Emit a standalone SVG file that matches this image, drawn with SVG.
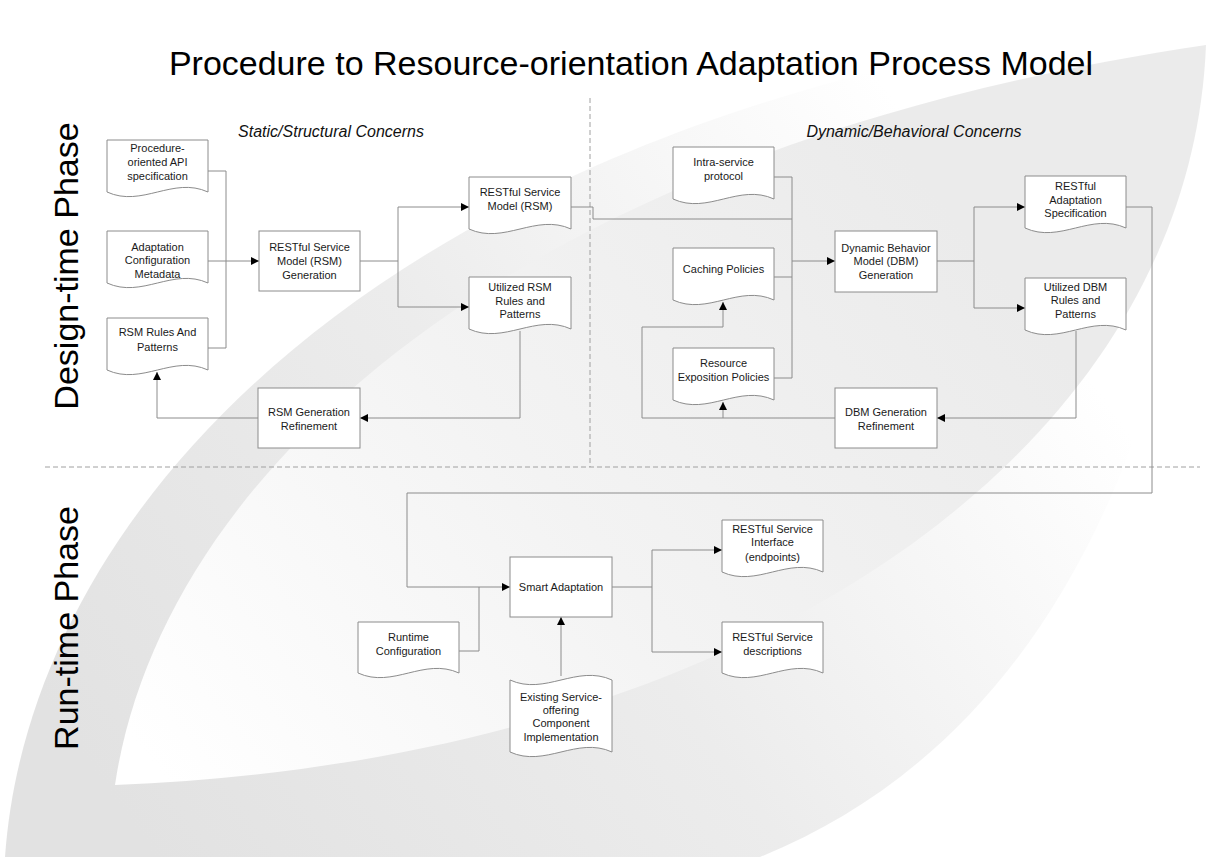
<svg xmlns="http://www.w3.org/2000/svg" width="1206" height="857" viewBox="0 0 1206 857">
<defs>
<linearGradient id="rim" gradientUnits="userSpaceOnUse" x1="150" y1="850" x2="1000" y2="250">
<stop offset="0" stop-color="#e2e2e2"/>
<stop offset="0.5" stop-color="#ececec"/>
<stop offset="1" stop-color="#ffffff"/>
</linearGradient>
<linearGradient id="inner" gradientUnits="userSpaceOnUse" x1="150" y1="760" x2="900" y2="150">
<stop offset="0" stop-color="#ffffff"/>
<stop offset="0.5" stop-color="#f3f3f3"/>
<stop offset="1" stop-color="#ebebeb"/>
</linearGradient>
<marker id="arr" viewBox="0 0 10 10" refX="10" refY="5" markerWidth="8" markerHeight="8" markerUnits="userSpaceOnUse" orient="auto">
<path d="M0,0 L10,5 L0,10 Z" fill="#000"/>
</marker>
<style>
.doc{fill:#fff;stroke:#8c8c8c;stroke-width:1}
.box{fill:#fff;stroke:#8c8c8c;stroke-width:1}
.t{font-family:"Liberation Sans",Arial,sans-serif;font-size:11px;fill:#1a1a1a;text-anchor:middle}
.c{fill:none;stroke:#8c8c8c;stroke-width:1}
.ca{fill:none;stroke:#8c8c8c;stroke-width:1;marker-end:url(#arr)}
.dash{fill:none;stroke:#a0a0a0;stroke-width:1;stroke-dasharray:5,3}
.big{font-family:"Liberation Sans",Arial,sans-serif;font-size:34px;fill:#000}
.con{font-family:"Liberation Sans",Arial,sans-serif;font-size:16px;font-style:italic;fill:#111;text-anchor:middle}
</style>
</defs>
<rect width="1206" height="857" fill="#fff"/>
<path d="M5,857 C30,500 400,100 1206,12 L1206,120 C1160,520 1000,760 760,857 Z" fill="url(#rim)"/>
<path d="M115,785 C160,480 500,150 1206,45 C1190,450 750,760 115,785 Z" fill="url(#inner)"/>

<text class="big" x="631" y="75" text-anchor="middle">Procedure to Resource-orientation Adaptation Process Model</text>
<text class="big" transform="translate(78,266) rotate(-90)" text-anchor="middle">Design-time Phase</text>
<text class="big" transform="translate(78,628) rotate(-90)" text-anchor="middle">Run-time Phase</text>
<text class="con" x="331" y="137">Static/Structural Concerns</text>
<text class="con" x="914" y="137">Dynamic/Behavioral Concerns</text>

<path class="dash" d="M45,467 H1200"/>
<path class="dash" d="M590,98 V467" stroke-dasharray="3,2"/>

<g id="connectors">
<path class="c" d="M208,171 H226 V348 H208"/>
<path class="ca" d="M208,261 H259"/>
<path class="ca" d="M360,261 H398 V207 H469"/>
<path class="ca" d="M398,261 V307 H469"/>
<path class="ca" d="M520,331 V418 H360"/>
<path class="ca" d="M258,418 H157 V372"/>
<path class="c" d="M571,207 H593 V219 H792"/>
<path class="c" d="M774,177 H792 V378 H774"/>
<path class="c" d="M774,277 H792"/>
<path class="ca" d="M792,261 H835"/>
<path class="ca" d="M937,261 H974 V207 H1025"/>
<path class="ca" d="M974,261 V308 H1025"/>
<path class="ca" d="M1076,331 V418 H937"/>
<path class="ca" d="M835,418 H642 V327 H723 V302"/>
<path class="ca" d="M723,418 V402"/>
<path class="ca" d="M1126,207 H1152 V493 H407 V587 H510"/>
<path class="c" d="M459,651 H479 V587"/>
<path class="ca" d="M561,676 V617"/>
<path class="ca" d="M612,587 H652 V550 H722"/>
<path class="ca" d="M652,587 V652 H722"/>
</g>

<g id="n-proc"><path class="doc" d="M107,140 H208 V192 C173,176 142,208 107,192 Z"/>
<text class="t" x="157.5" y="152">Procedure-</text><text class="t" x="157.5" y="166">oriented API</text><text class="t" x="157.5" y="180">specification</text></g>
<g id="n-adapt"><path class="doc" d="M107,231 H208 V283 C173,267 142,299 107,283 Z"/>
<text class="t" x="157.5" y="251">Adaptation</text><text class="t" x="157.5" y="264">Configuration</text><text class="t" x="157.5" y="278">Metadata</text></g>
<g id="n-rsmrules"><path class="doc" d="M107,318 H208 V370 C173,354 142,386 107,370 Z"/>
<text class="t" x="157.5" y="336">RSM Rules And</text><text class="t" x="157.5" y="351">Patterns</text></g>
<g id="n-rsmgen"><rect class="box" x="259" y="231" width="101" height="60"/>
<text class="t" x="309.5" y="251">RESTful Service</text><text class="t" x="309.5" y="265">Model (RSM)</text><text class="t" x="309.5" y="279">Generation</text></g>
<g id="n-rsm"><path class="doc" d="M469,177 H571 V229 C536,213 504,245 469,229 Z"/>
<text class="t" x="520" y="196">RESTful Service</text><text class="t" x="520" y="210">Model (RSM)</text></g>
<g id="n-urules"><path class="doc" d="M469,277 H571 V329 C536,313 504,345 469,329 Z"/>
<text class="t" x="520" y="291">Utilized RSM</text><text class="t" x="520" y="305">Rules and</text><text class="t" x="520" y="318">Patterns</text></g>
<g id="n-rsmref"><rect class="box" x="258" y="388" width="102" height="60"/>
<text class="t" x="309" y="416">RSM Generation</text><text class="t" x="309" y="430">Refinement</text></g>

<g id="n-intra"><path class="doc" d="M673,147 H774 V199 C739,183 708,215 673,199 Z"/>
<text class="t" x="723.5" y="166">Intra-service</text><text class="t" x="723.5" y="180">protocol</text></g>
<g id="n-cache"><path class="doc" d="M673,248 H774 V300 C739,284 708,316 673,300 Z"/>
<text class="t" x="723.5" y="273">Caching Policies</text></g>
<g id="n-resexp"><path class="doc" d="M673,348 H774 V400 C739,384 708,416 673,400 Z"/>
<text class="t" x="723.5" y="367">Resource</text><text class="t" x="723.5" y="381">Exposition Policies</text></g>
<g id="n-dbmgen"><rect class="box" x="835" y="231" width="102" height="61"/>
<text class="t" x="886" y="252">Dynamic Behavior</text><text class="t" x="886" y="265">Model (DBM)</text><text class="t" x="886" y="279">Generation</text></g>
<g id="n-radspec"><path class="doc" d="M1025,176 H1126 V228 C1091,212 1060,244 1025,228 Z"/>
<text class="t" x="1075.5" y="190">RESTful</text><text class="t" x="1075.5" y="204">Adaptation</text><text class="t" x="1075.5" y="217">Specification</text></g>
<g id="n-udbm"><path class="doc" d="M1025,278 H1126 V330 C1091,314 1060,346 1025,330 Z"/>
<text class="t" x="1075.5" y="291">Utilized DBM</text><text class="t" x="1075.5" y="304">Rules and</text><text class="t" x="1075.5" y="318">Patterns</text></g>
<g id="n-dbmref"><rect class="box" x="835" y="388" width="102" height="60"/>
<text class="t" x="886" y="416">DBM Generation</text><text class="t" x="886" y="430">Refinement</text></g>

<g id="n-smart"><rect class="box" x="510" y="557" width="102" height="60"/>
<text class="t" x="561" y="591">Smart Adaptation</text></g>
<g id="n-runtime"><path class="doc" d="M358,622 H459 V673 C424,657 393,689 358,673 Z"/>
<text class="t" x="408.5" y="641">Runtime</text><text class="t" x="408.5" y="655">Configuration</text></g>
<g id="n-existing"><path class="doc" d="M510,680 C545,696 577,664 612,680 V752 C577,736 545,768 510,752 Z"/>
<text class="t" x="561" y="701">Existing Service-</text><text class="t" x="561" y="714">offering</text><text class="t" x="561" y="727">Component</text><text class="t" x="561" y="741">Implementation</text></g>
<g id="n-rsi"><path class="doc" d="M722,520 H823 V572 C788,556 757,588 722,572 Z"/>
<text class="t" x="772.5" y="533">RESTful Service</text><text class="t" x="772.5" y="546">Interface</text><text class="t" x="772.5" y="561">(endpoints)</text></g>
<g id="n-rsd"><path class="doc" d="M722,622 H823 V673 C788,657 757,689 722,673 Z"/>
<text class="t" x="772.5" y="641">RESTful Service</text><text class="t" x="772.5" y="655">descriptions</text></g>
</svg>
